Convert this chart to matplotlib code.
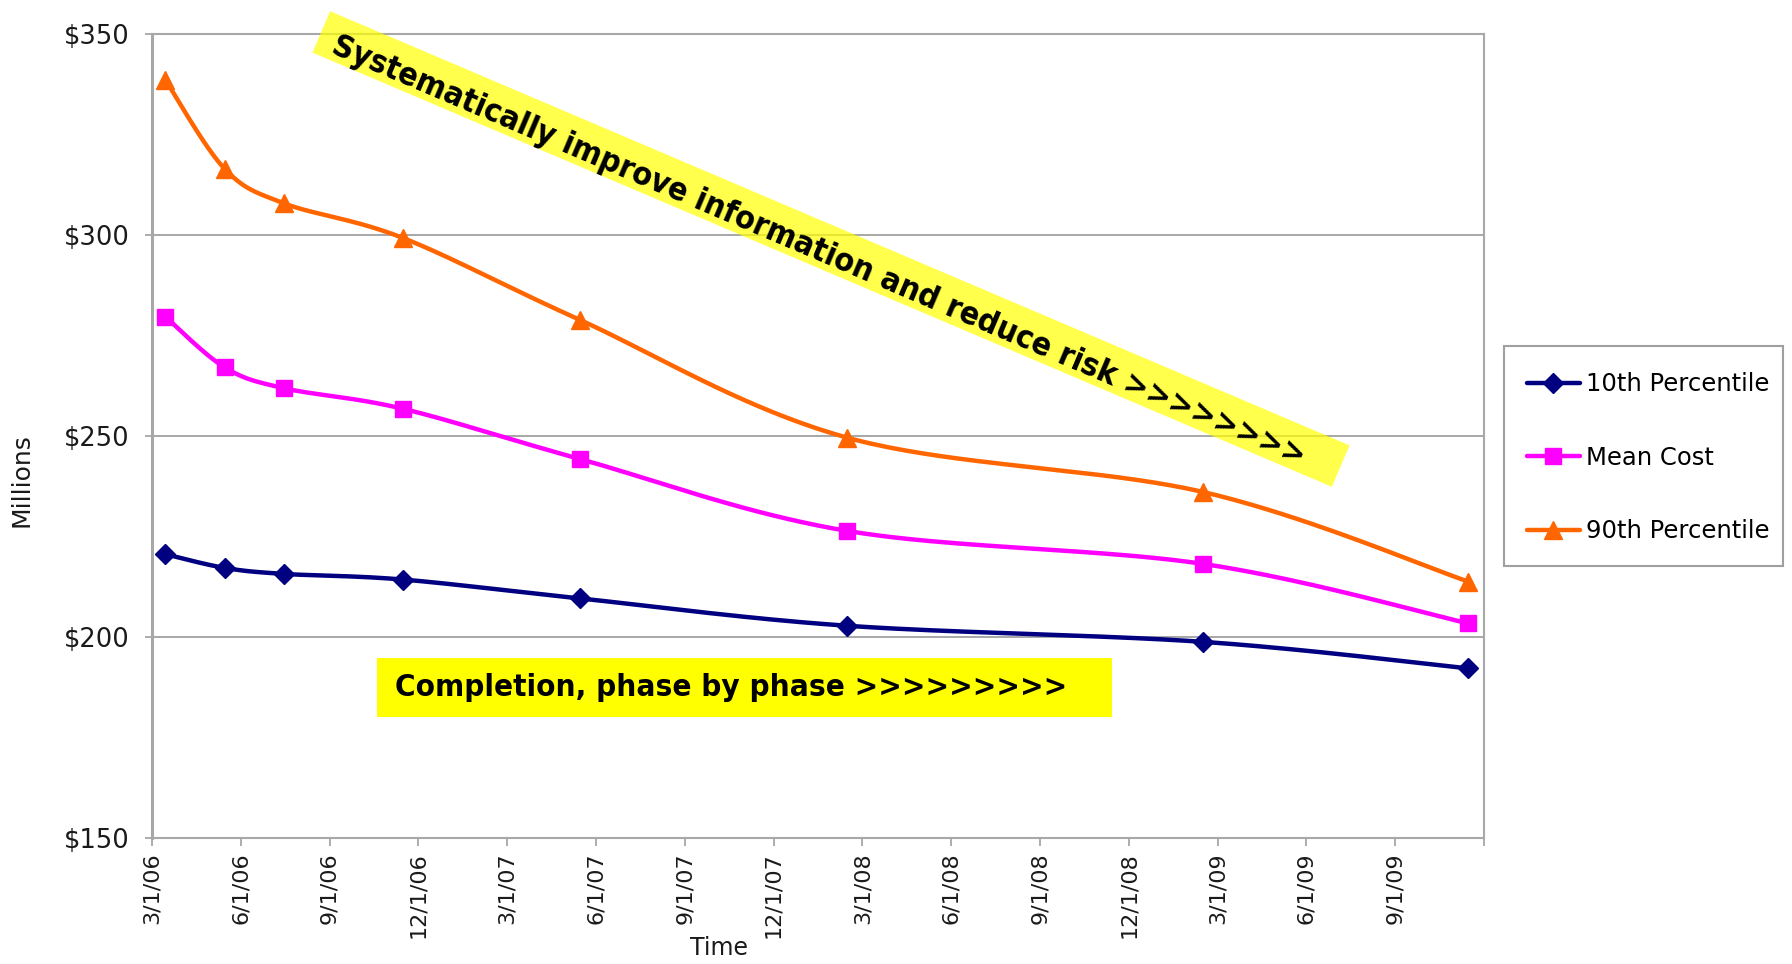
import numpy as np
import pandas as pd
import matplotlib
matplotlib.use("Agg")
from matplotlib import pyplot as plt
from matplotlib import transforms as mtransforms
from matplotlib.patches import Rectangle
from matplotlib.ticker import FuncFormatter

# estimate dates (mid-month) and cost estimates in $ millions
dates = ["2006-03-15", "2006-05-15", "2006-07-15", "2006-11-15",
         "2007-05-15", "2008-02-15", "2009-02-15", "2009-11-15"]
p10 = [220.6, 217.2, 215.7, 214.3, 209.6, 202.8, 198.8, 192.2]
mean_cost = [279.7, 267.1, 261.9, 256.8, 244.3, 226.4, 218.2, 203.4]
p90 = [338.6, 316.5, 307.9, 299.3, 278.9, 249.6, 236.1, 213.8]

series_names = ["10th Percentile", "Mean Cost", "90th Percentile"]
series_colors = ["#000080", "#ff00ff", "#ff6600"]
series_markers = ["D", "s", "^"]
marker_sizes = [10, 11, 13]

tick_labels = ["3/1/06", "6/1/06", "9/1/06", "12/1/06",
               "3/1/07", "6/1/07", "9/1/07", "12/1/07",
               "3/1/08", "6/1/08", "9/1/08", "12/1/08",
               "3/1/09", "6/1/09", "9/1/09", ""]
y_ticks = [150, 200, 250, 300, 350]

banner_text = "Systematically improve information and reduce risk >>>>>>>>"
box_text = "Completion, phase by phase >>>>>>>>>"


def month_positions(date_strs):
    # months since 3/1/06, the first tick of the time axis
    d = pd.to_datetime(date_strs)
    return ((d.year - 2006) * 12 + (d.month - 3) + (d.day - 1) / d.days_in_month).to_numpy(float)


def smooth_curve(x, y, n_seg=40):
    # Catmull-Rom style bezier through every point, like a spreadsheet "smoothed line"
    px = np.concatenate([[x[0]], x, [x[-1]]])
    py = np.concatenate([[y[0]], y, [y[-1]]])
    t = np.linspace(0, 1, n_seg, endpoint=False)[:, None]
    out = []
    for i in range(1, len(px) - 2):
        p0 = np.array([px[i - 1], py[i - 1]])
        p1 = np.array([px[i], py[i]])
        p2 = np.array([px[i + 1], py[i + 1]])
        p3 = np.array([px[i + 2], py[i + 2]])
        c1 = p1 + (p2 - p0) / 6.0
        c2 = p2 - (p3 - p1) / 6.0
        seg = ((1 - t) ** 3) * p1 + 3 * ((1 - t) ** 2) * t * c1 + 3 * (1 - t) * t ** 2 * c2 + t ** 3 * p2
        out.append(seg)
    out.append(np.array([[x[-1], y[-1]]]))
    out = np.vstack(out)
    return out[:, 0], out[:, 1]


def main():
    fig = plt.figure(figsize=(17.92, 9.64), dpi=100)
    ax = fig.add_axes([0.0848, 0.1307, 0.7433, 0.834])

    x = month_positions(dates)
    n_seg = 40
    for vals, name, color, marker, ms in zip([p10, mean_cost, p90], series_names,
                                             series_colors, series_markers, marker_sizes):
        sx, sy = smooth_curve(x, np.asarray(vals, float), n_seg)
        ax.plot(sx, sy, color=color, lw=3.2, marker=marker, ms=ms,
                markevery=list(range(0, len(sx), n_seg)), mec=color, mfc=color,
                label=name, solid_capstyle="round", zorder=3)

    ax.set_xlim(0, 3 * (len(tick_labels) - 1))
    ax.set_ylim(y_ticks[0], y_ticks[-1])
    ax.set_xticks(np.arange(len(tick_labels)) * 3)
    ax.set_xticklabels(tick_labels, rotation=90, fontsize=16, color="#1a1a1a")
    ax.set_yticks(y_ticks)
    ax.yaxis.set_major_formatter(FuncFormatter(lambda v, _: "$%d" % v))
    ax.tick_params(axis="y", labelsize=18.5, labelcolor="#1a1a1a", length=5,
                   width=1.2, color="#a0a0a0", pad=11)
    ax.tick_params(axis="x", length=6, width=1.2, color="#a0a0a0", pad=4)

    ax.grid(axis="y", color="#a0a0a0", lw=1.3)
    ax.set_axisbelow(True)
    for side in ["left", "right", "bottom", "top"]:
        ax.spines[side].set_color("#a8a8a8")
        ax.spines[side].set_linewidth(1.5)
    ax.spines["left"].set_linewidth(2.2)

    ax.set_xlabel("Time", fontsize=17, color="#1a1a1a")
    ax.xaxis.set_label_coords(0.426, -0.122)
    ax.set_ylabel("Millions", fontsize=18, color="#1a1a1a")
    ax.yaxis.set_label_coords(-0.089, 0.445)

    # legend entries without their own frame; the box is drawn separately
    ax.legend(loc="upper left", bbox_to_anchor=(1500.5 / 1792, 1 - 346 / 964),
              bbox_transform=fig.transFigure, borderaxespad=0,
              fontsize=17.5, handlelength=2.2, handletextpad=0.25,
              labelspacing=2.04, borderpad=1.08, numpoints=1, frameon=False)
    fig.patches.append(Rectangle((1504 / 1792, 1 - 566 / 964), 279 / 1792, 220 / 964,
                                 transform=fig.transFigure, facecolor="none",
                                 edgecolor="#a0a0a0", linewidth=1.5))

    # diagonal translucent banner, laid out in inches on the figure
    ang = -23.07
    cx, cy = 8.31, 9.64 - 2.49
    L, H = 11.08, 0.45
    tr = mtransforms.Affine2D().rotate_deg(ang).translate(cx, cy) + fig.dpi_scale_trans
    fig.patches.append(Rectangle((-L / 2, -H / 2), L, H, transform=tr,
                                 facecolor="#ffff00", alpha=0.7, edgecolor="none", zorder=5))
    fig.text(8.19, 7.13, banner_text, transform=fig.dpi_scale_trans,
             rotation=ang, rotation_mode="anchor", ha="center", va="center",
             fontsize=23.2, fontweight="bold", fontstretch="condensed",
             family="DejaVu Sans", color="black", zorder=6)

    # phase-completion box
    fig.patches.append(Rectangle((3.77, 9.64 - 7.17), 7.35, 0.59, transform=fig.dpi_scale_trans,
                                 facecolor="#ffff00", edgecolor="none", zorder=5))
    fig.text(3.95, 9.64 - 6.88, box_text, transform=fig.dpi_scale_trans,
             ha="left", va="center", fontsize=22.5, fontweight="bold",
             fontstretch="condensed", family="DejaVu Sans", color="black", zorder=6)

    fig.savefig("out.png", dpi=100, facecolor="white")


if __name__ == "__main__":
    main()
